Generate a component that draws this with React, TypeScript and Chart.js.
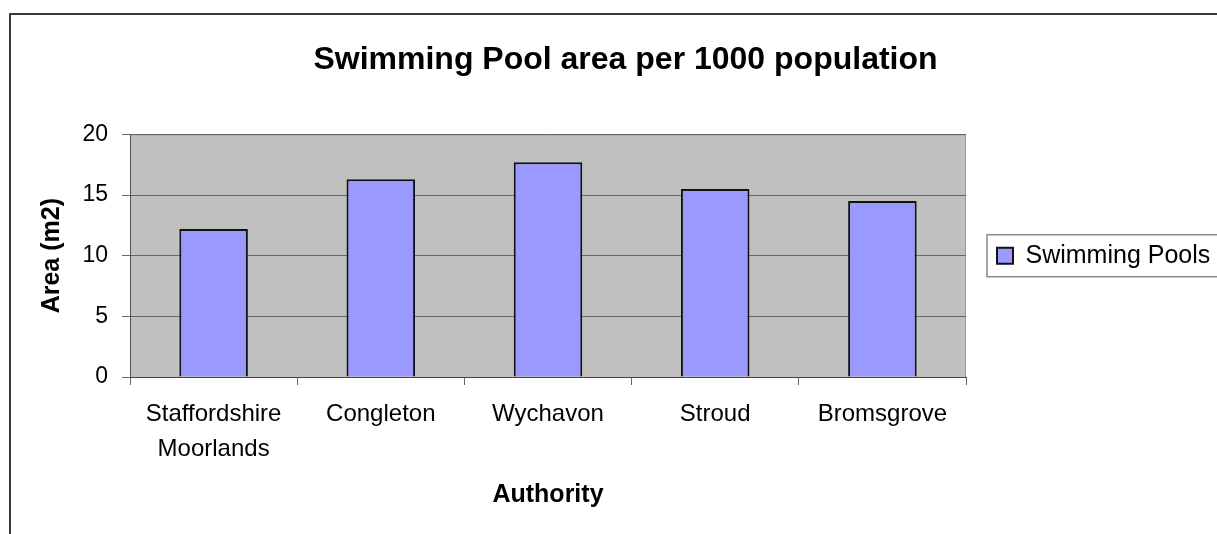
import React, { useEffect, useRef } from "react";
import { Chart, registerables } from "chart.js";

Chart.register(...registerables);

const chartTitle = "Swimming Pool area per 1000 population";
const xAxisTitle = "Authority";
const yAxisTitle = "Area (m2)";
const seriesName = "Swimming Pools";
const categories: (string | string[])[] = [
  ["Staffordshire", "Moorlands"],
  "Congleton",
  "Wychavon",
  "Stroud",
  "Bromsgrove",
];
const poolArea = [12.2, 16.3, 17.7, 15.5, 14.5];
const yMin = 0;
const yMax = 20;
const yStep = 5;

const FONT = "'Liberation Sans', Arial, Helvetica, sans-serif";

const decorPlugin = {
  id: "decor",
  beforeDraw(chart: any) {
    const { ctx, chartArea } = chart;
    ctx.save();
    ctx.fillStyle = "#ffffff";
    ctx.fillRect(0, 0, chart.width, chart.height);
    ctx.strokeStyle = "#3a3a3a";
    ctx.lineWidth = 2;
    ctx.strokeRect(10, 14, chart.width + 50, chart.height + 50);
    ctx.fillStyle = "#c0c0c0";
    ctx.fillRect(chartArea.left, chartArea.top, chartArea.right - chartArea.left, chartArea.bottom - chartArea.top);
    ctx.strokeStyle = "#9a9a9a";
    ctx.lineWidth = 1;
    ctx.strokeRect(chartArea.left + 0.5, chartArea.top + 0.5, chartArea.right - chartArea.left - 1, chartArea.bottom - chartArea.top);
    ctx.restore();
  },
  afterDraw(chart: any) {
    const legend = chart.legend;
    if (!legend || !legend.legendHitBoxes || !legend.legendHitBoxes.length) return;
    const hb = legend.legendHitBoxes[0];
    const { ctx } = chart;
    const cy = hb.top + hb.height / 2;
    ctx.save();
    ctx.strokeStyle = "#8a8a8a";
    ctx.lineWidth = 1.5;
    ctx.strokeRect(hb.left - 10, cy - 21, chart.width, 42);
    ctx.restore();
  },
};

export default function App() {
  const canvasRef = useRef<HTMLCanvasElement | null>(null);

  useEffect(() => {
    if (!canvasRef.current) return;
    const chart = new Chart(canvasRef.current, {
      type: "bar",
      data: {
        labels: categories,
        datasets: [
          {
            label: seriesName,
            data: poolArea,
            backgroundColor: "#9999ff",
            borderColor: "#111111",
            borderWidth: 2,
            categoryPercentage: 1,
            barPercentage: 0.41,
          },
        ],
      },
      options: {
        responsive: false,
        animation: false,
        layout: { padding: { left: 34, top: 0, right: 0, bottom: 0 } },
        plugins: {
          title: {
            display: true,
            text: chartTitle,
            color: "#000",
            font: { family: FONT, size: 32, weight: "bold" },
            padding: { top: 41, bottom: 55 },
          },
          legend: {
            display: true,
            position: "right",
            align: "center",
            fullSize: false,
            maxWidth: 251,
            labels: {
              color: "#000",
              font: { family: FONT, size: 25 },
              boxWidth: 16,
              boxHeight: 16,
              padding: 31,
            },
          },
          tooltip: { enabled: false },
        },
        scales: {
          x: {
            offset: true,
            grid: {
              display: true,
              drawOnChartArea: false,
              drawTicks: true,
              tickLength: 8,
              color: "#666",
              offset: true,
            },
            border: { display: true, color: "#444", width: 1 },
            ticks: {
              color: "#000",
              font: { family: FONT, size: 24, lineHeight: 1.45 },
              padding: 12,
              maxRotation: 0,
              autoSkip: false,
            },
            title: {
              display: true,
              text: xAxisTitle,
              color: "#000",
              font: { family: FONT, size: 25, weight: "bold" },
              padding: { top: 0, bottom: 24 },
            },
            afterFit(scale: any) {
              scale.height = 157;
            },
          },
          y: {
            min: yMin,
            max: yMax,
            grid: {
              color: "#666",
              tickColor: "#666",
              tickLength: 8,
              drawTicks: true,
            },
            border: { display: true, color: "#555", width: 1 },
            ticks: {
              stepSize: yStep,
              color: "#000",
              font: { family: FONT, size: 23 },
              padding: 14,
            },
            title: {
              display: true,
              text: yAxisTitle,
              color: "#000",
              font: { family: FONT, size: 25, weight: "bold" },
              padding: { top: 3, bottom: 0 },
            },
            afterFit(scale: any) {
              scale.width = 96;
            },
          },
        },
      } as any,
      plugins: [decorPlugin],
    });
    return () => chart.destroy();
  }, []);

  return (
    <div style={{ position: "absolute", left: 0, top: 0, width: 1217, height: 534 }}>
      <canvas ref={canvasRef} width={1217} height={534} style={{ display: "block" }} />
    </div>
  );
}
